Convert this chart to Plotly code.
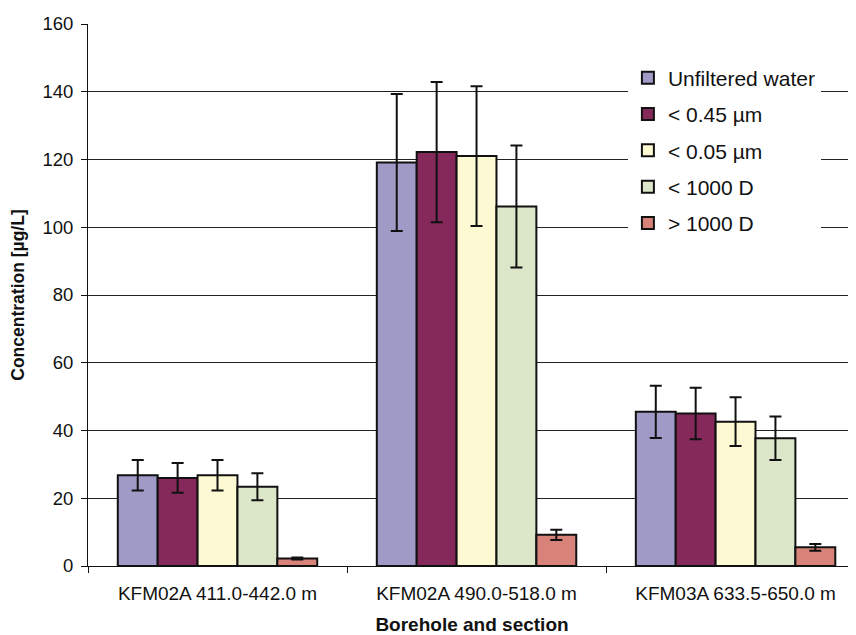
import plotly.graph_objects as go

categories = ["KFM02A 411.0-442.0 m", "KFM02A 490.0-518.0 m", "KFM03A 633.5-650.0 m"]
series_names = ["Unfiltered water", "< 0.45 µm", "< 0.05 µm", "< 1000 D", "> 1000 D"]
unfiltered = [26.8, 119.1, 45.5]
lt_045 = [26.0, 122.2, 45.0]
lt_005 = [26.8, 121.0, 42.6]
lt_1000 = [23.4, 106.1, 37.7]
gt_1000 = [2.2, 9.2, 5.5]
err_unfiltered = [4.5, 20.2, 7.7]
err_045 = [4.4, 20.7, 7.6]
err_005 = [4.5, 20.6, 7.2]
err_1000 = [4.0, 18.0, 6.4]
err_gt1000 = [0.3, 1.5, 1.0]
y_ticks = [0, 20, 40, 60, 80, 100, 120, 140, 160]

values = [unfiltered, lt_045, lt_005, lt_1000, gt_1000]
errors = [err_unfiltered, err_045, err_005, err_1000, err_gt1000]
colors = ["#A09AC6", "#85295B", "#FCF9D3", "#DBE7C8", "#D8837A"]

fig = go.Figure()
for i, (name, vals, errs, col) in enumerate(zip(series_names, values, errors, colors)):
    fig.add_trace(go.Bar(
        name=name, x=categories, y=vals, legendgroup=f"g{i}",
        marker=dict(color=col, line=dict(color="#111111", width=2)),
        error_y=dict(type="data", array=errs, visible=True, color="#111111",
                     thickness=2, width=6),
    ))

# page body has an 8px margin: compensate so the plot area sits at x 88-856, y 24-566
fig.update_layout(
    width=848, height=627,
    barmode="group", bargap=0.23, bargroupgap=0,
    plot_bgcolor="white", paper_bgcolor="white",
    margin=dict(l=80, r=0, t=16, b=69),
    font=dict(family="Liberation Sans, Arial, sans-serif", color="#111111"),
    showlegend=True,
    legend=dict(x=0.703, y=0.938, xanchor="left", yanchor="top",
                font=dict(size=21, color="#111111"), bgcolor="white",
                tracegroupgap=6, itemwidth=30),
)
fig.update_xaxes(
    automargin=False,
    range=[-0.5, 2.465],
    showline=True, linecolor="#111111", linewidth=1,
    ticks="outside", tickson="boundaries", ticklen=6, tickcolor="#111111",
    tickfont=dict(size=19), ticklabelstandoff=10,
    title=dict(text="<b>Borehole and section</b>", font=dict(size=19), standoff=27),
)
fig.update_yaxes(
    automargin=False,
    range=[0, 160], tickvals=y_ticks,
    showline=True, linecolor="#111111", linewidth=1,
    ticks="outside", ticklen=6, tickcolor="#111111",
    showgrid=True, gridcolor="#222222", gridwidth=1,
    tickfont=dict(size=18.5), ticklabelstandoff=4,
    title=dict(text="<b>Concentration [µg/L]</b>", font=dict(size=17.5)),
    zeroline=False,
)
fig.write_html("out.html")
